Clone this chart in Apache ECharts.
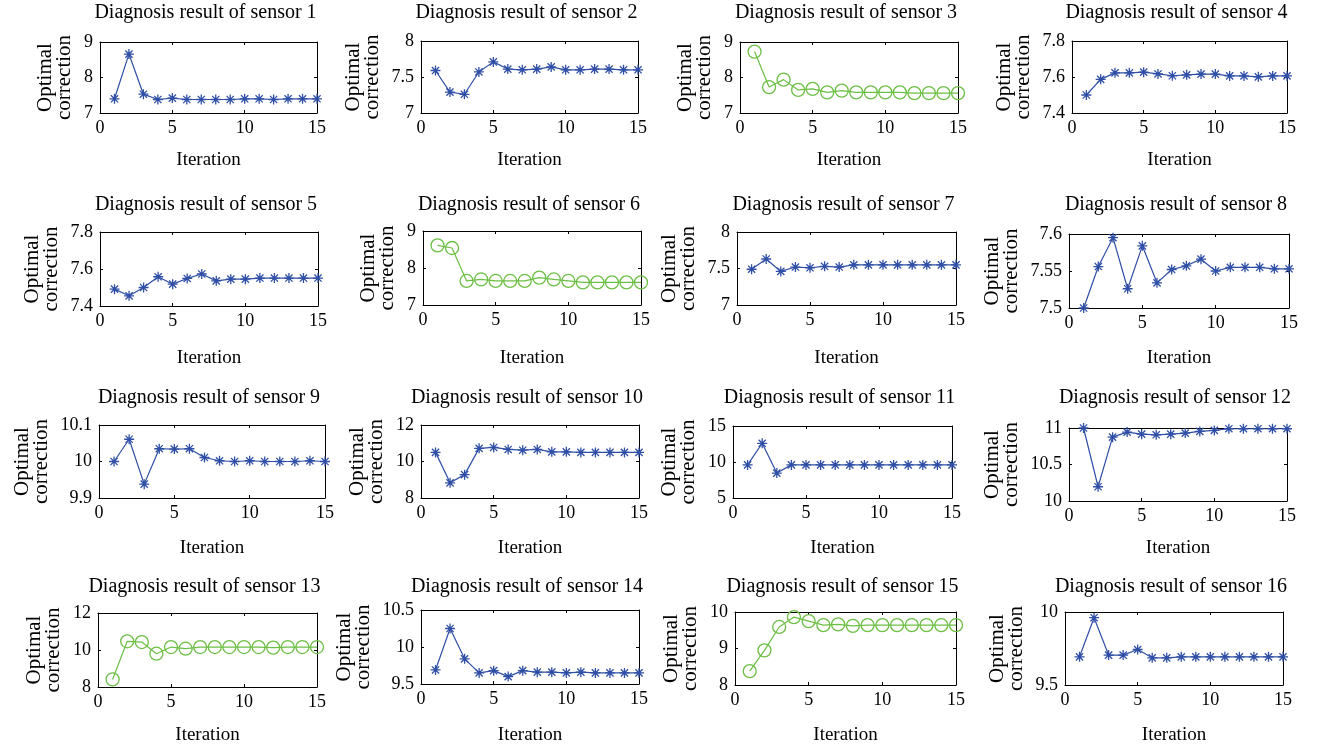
<!DOCTYPE html>
<html>
<head>
<meta charset="utf-8">
<script src="https://cdn.jsdelivr.net/npm/echarts@6/dist/echarts.min.js"></script>
<style>
html,body{margin:0;padding:0;background:#ffffff;}
#chart{width:1320px;height:750px;}
</style>
</head>
<body>
<div id="chart"></div>
<script>
// ---------------- data ----------------
const iterations = [1, 2, 3, 4, 5, 6, 7, 8, 9, 10, 11, 12, 13, 14, 15];
const sensorIds = [1, 2, 3, 4, 5, 6, 7, 8, 9, 10, 11, 12, 13, 14, 15, 16];
const titlePrefix = 'Diagnosis result of sensor ';
const xName = 'Iteration';
const yName = 'Optimal\ncorrection';

const s1  = [7.40, 8.66, 7.53, 7.38, 7.42, 7.38, 7.38, 7.38, 7.38, 7.40, 7.40, 7.38, 7.40, 7.40, 7.40];
const s2  = [7.59, 7.29, 7.26, 7.57, 7.71, 7.61, 7.60, 7.61, 7.64, 7.60, 7.60, 7.61, 7.61, 7.60, 7.60];
const s3  = [8.73, 7.73, 7.94, 7.65, 7.68, 7.58, 7.63, 7.58, 7.58, 7.58, 7.58, 7.56, 7.56, 7.56, 7.56];
const s4  = [7.500, 7.587, 7.623, 7.623, 7.627, 7.617, 7.607, 7.612, 7.616, 7.616, 7.606, 7.606, 7.601, 7.606, 7.606];
const s5  = [7.491, 7.455, 7.500, 7.558, 7.518, 7.549, 7.573, 7.536, 7.545, 7.545, 7.551, 7.551, 7.551, 7.551, 7.551];
const s6  = [8.61, 8.54, 7.65, 7.69, 7.65, 7.65, 7.65, 7.74, 7.69, 7.65, 7.61, 7.61, 7.61, 7.61, 7.61];
const s7  = [7.49, 7.63, 7.46, 7.52, 7.51, 7.53, 7.52, 7.55, 7.55, 7.55, 7.55, 7.55, 7.55, 7.55, 7.55];
const s8  = [7.500, 7.556, 7.595, 7.526, 7.584, 7.534, 7.552, 7.557, 7.566, 7.550, 7.555, 7.555, 7.555, 7.553, 7.553];
const s9  = [10.000, 10.061, 9.938, 10.035, 10.034, 10.035, 10.011, 10.002, 10.000, 10.002, 10.000, 10.000, 10.000, 10.002, 10.000];
const s10 = [10.50, 8.83, 9.28, 10.72, 10.77, 10.66, 10.62, 10.66, 10.53, 10.53, 10.50, 10.50, 10.50, 10.50, 10.50];
const s11 = [9.6, 12.6, 8.46, 9.6, 9.6, 9.6, 9.6, 9.6, 9.6, 9.6, 9.6, 9.6, 9.6, 9.6, 9.6];
const s12 = [11.000, 10.195, 10.875, 10.944, 10.916, 10.907, 10.916, 10.930, 10.953, 10.967, 10.990, 10.990, 10.990, 10.990, 10.990];
const s13 = [8.41, 10.47, 10.43, 9.80, 10.16, 10.07, 10.16, 10.16, 10.16, 10.16, 10.16, 10.13, 10.16, 10.16, 10.16];
const s14 = [9.69, 10.25, 9.84, 9.65, 9.68, 9.60, 9.68, 9.66, 9.66, 9.65, 9.66, 9.65, 9.65, 9.65, 9.65];
const s15 = [8.38, 8.95, 9.59, 9.86, 9.75, 9.64, 9.66, 9.62, 9.64, 9.64, 9.64, 9.64, 9.64, 9.64, 9.64];
const s16 = [9.693, 9.961, 9.705, 9.705, 9.743, 9.686, 9.686, 9.693, 9.693, 9.693, 9.693, 9.693, 9.693, 9.693, 9.693];

const sensorValues = [s1, s2, s3, s4, s5, s6, s7, s8, s9, s10, s11, s12, s13, s14, s15, s16];
const markerKind = ['star', 'star', 'circle', 'star', 'star', 'circle', 'star', 'star',
                    'star', 'star', 'star', 'star', 'circle', 'star', 'circle', 'star'];

// axis ranges / tick steps
const yMin  = [7, 7, 7, 7.4,   7.4, 7, 7, 7.5,    9.9, 8, 5, 10,    8, 9.5, 8, 9.5];
const yMax  = [9, 8, 9, 7.8,   7.8, 9, 8, 7.6,    10.1, 12, 15, 11, 12, 10.5, 10, 10];
const yStep = [1, 0.5, 1, 0.2, 0.2, 1, 0.5, 0.05, 0.1, 2, 5, 0.5,   2, 0.5, 1, 0.5];
const xMin = 0, xMax = 15, xStep = 5;

// ---------------- layout (pixels) ----------------
const boxes = [
  [100, 317, 42, 113], [421, 638, 41, 113], [740, 958, 42, 113], [1072, 1287, 41, 113],
  [100, 318, 232, 306], [423, 641, 231, 305], [737, 956, 232, 305], [1069, 1289, 234, 308],
  [99, 325, 425, 498], [421, 639, 425, 498], [733, 952, 426, 498], [1069, 1287, 428, 501],
  [98, 317, 613, 687], [421, 639, 610, 684], [735, 956, 612, 685], [1065, 1283, 612, 685]
];
const rowTitleY = [14, 206, 399, 588];
const rowNameY = [160, 358, 548, 735];

const FONT = '"Liberation Serif", "Times New Roman", serif';
const BLUE = '#2f4fa6';
const GREEN = '#6cbf45';
const STAR = 'path://M0,-5L0,5M-5,0L5,0M-3.6,-3.6L3.6,3.6M-3.6,3.6L3.6,-3.6';

const measureCtx = document.createElement('canvas').getContext('2d');
measureCtx.font = '18px "Liberation Serif"';
function fmt(v) { return String(Number(v.toFixed(6))); }

const grid = [], xAxis = [], yAxis = [], series = [], title = [];

for (let i = 0; i < sensorIds.length; i++) {
  const [x0, x1, y0, y1] = boxes[i];
  const row = Math.floor(i / 4);
  grid.push({ left: x0, top: y0, width: x1 - x0, height: y1 - y0, show: false });

  title.push({
    text: titlePrefix + sensorIds[i],
    left: (x0 + x1) / 2 - 3,
    top: rowTitleY[row] - 11,
    textAlign: 'center',
    padding: 0,
    textStyle: { fontFamily: FONT, fontSize: 20, fontWeight: 'normal', color: '#000' }
  });

  const line = { show: true, onZero: false, lineStyle: { color: '#000', width: 1 } };
  const tick = { show: true, inside: true, length: 3, lineStyle: { color: '#000', width: 1 } };

  xAxis.push({
    type: 'value', gridIndex: i, position: 'bottom', min: xMin, max: xMax, interval: xStep,
    axisLine: line, axisTick: tick, splitLine: { show: false },
    axisLabel: { show: true, margin: 6, fontFamily: FONT, fontSize: 18, color: '#000', showMinLabel: true, showMaxLabel: true },
    name: xName, nameLocation: 'middle', nameGap: rowNameY[row] - 10 - y1,
    nameTextStyle: { fontFamily: FONT, fontSize: 19, color: '#000', lineHeight: 20 }
  });
  xAxis.push({
    type: 'value', gridIndex: i, position: 'top', min: xMin, max: xMax, interval: xStep,
    axisLine: line, axisTick: tick, splitLine: { show: false }, axisLabel: { show: false }
  });

  // label width for y-axis name gap
  let maxW = 0;
  const nT = Math.round((yMax[i] - yMin[i]) / yStep[i]);
  for (let k = 0; k <= nT; k++) {
    maxW = Math.max(maxW, measureCtx.measureText(fmt(yMin[i] + k * yStep[i])).width);
  }
  yAxis.push({
    type: 'value', gridIndex: i, position: 'left', min: yMin[i], max: yMax[i], interval: yStep[i],
    axisLine: line, axisTick: tick, splitLine: { show: false },
    axisLabel: { show: true, margin: 7, fontFamily: FONT, fontSize: 18, color: '#000', showMinLabel: true, showMaxLabel: true,
                 formatter: v => fmt(v) },
    name: yName, nameLocation: 'middle', nameRotate: 90, nameGap: 7 + maxW + 10,
    nameTextStyle: { fontFamily: FONT, fontSize: 21, color: '#000', lineHeight: 19 }
  });
  yAxis.push({
    type: 'value', gridIndex: i, position: 'right', min: yMin[i], max: yMax[i], interval: yStep[i],
    axisLine: line, axisTick: tick, splitLine: { show: false }, axisLabel: { show: false }
  });

  const isCircle = markerKind[i] === 'circle';
  const col = isCircle ? GREEN : BLUE;
  series.push({
    type: 'line',
    xAxisIndex: 2 * i, yAxisIndex: 2 * i,
    data: iterations.map((it, k) => [it, sensorValues[i][k]]),
    symbol: isCircle ? 'circle' : STAR,
    symbolSize: isCircle ? 13 : 10,
    symbolKeepAspect: true,
    showAllSymbol: true,
    clip: false,
    lineStyle: { color: col, width: 1.2 },
    itemStyle: { color: 'rgba(0,0,0,0)', borderColor: col, borderWidth: 1.3 },
    emphasis: { disabled: true },
    silent: true
  });
}

const chart = echarts.init(document.getElementById('chart'), null, { renderer: 'canvas' });
chart.setOption({
  backgroundColor: '#ffffff',
  animation: false,
  title, grid, xAxis, yAxis, series
});
</script>
</body>
</html>
